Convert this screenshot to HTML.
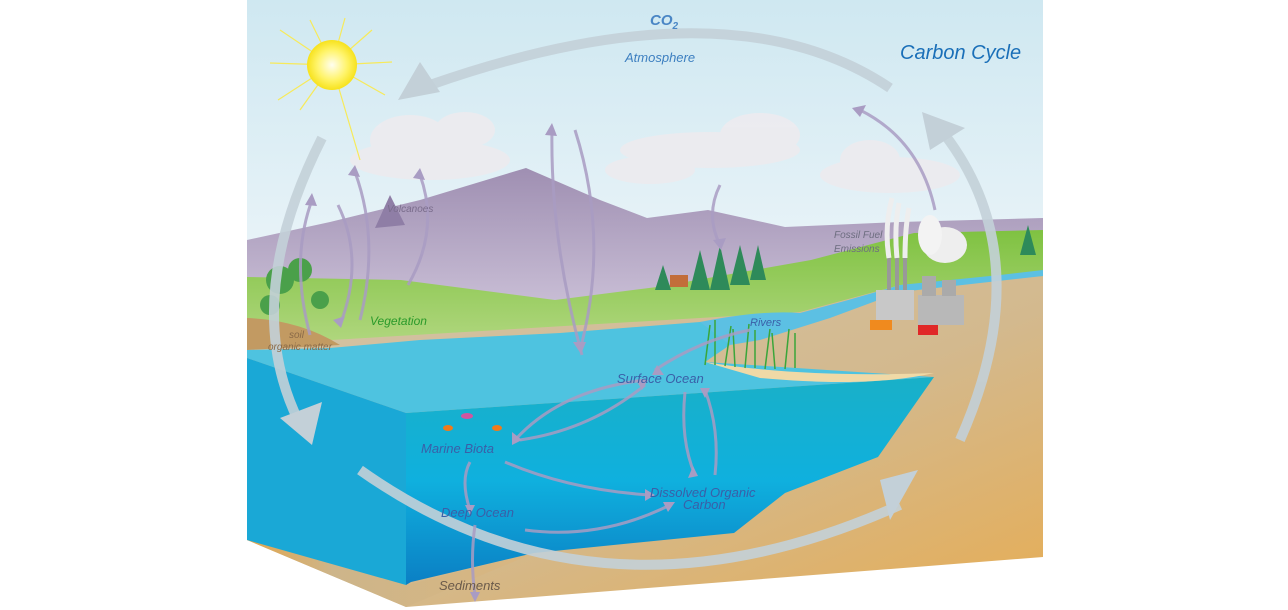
<!DOCTYPE html>
<html><head><meta charset="utf-8"><style>
html,body{margin:0;padding:0;background:#fff;width:1288px;height:610px;overflow:hidden}
svg{display:block}
text{font-family:"Liberation Sans",sans-serif;font-style:italic}
</style></head><body>
<svg width="1288" height="610" viewBox="0 0 1288 610" xmlns="http://www.w3.org/2000/svg">
<defs>
<linearGradient id="sky" x1="0" y1="0" x2="0" y2="1"><stop offset="0" stop-color="#cfe8f1"/><stop offset="1" stop-color="#edf5f9"/></linearGradient>
<linearGradient id="mtn" x1="0" y1="0" x2="0" y2="1"><stop offset="0" stop-color="#9f8fb2"/><stop offset="1" stop-color="#c7bcd4"/></linearGradient>
<linearGradient id="grass" x1="0" y1="0" x2="0" y2="1"><stop offset="0" stop-color="#7fc241"/><stop offset="1" stop-color="#b4d883"/></linearGradient>
<linearGradient id="front" x1="0" y1="0" x2="0" y2="1"><stop offset="0" stop-color="#19b0c8"/><stop offset="0.5" stop-color="#0fb0de"/><stop offset="1" stop-color="#0b7fc4"/></linearGradient>
<linearGradient id="tan" x1="0" y1="0" x2="1" y2="1"><stop offset="0" stop-color="#d2c4a8"/><stop offset="0.55" stop-color="#d3b98e"/><stop offset="1" stop-color="#e6ad55"/></linearGradient>
<linearGradient id="sandL" x1="0" y1="0" x2="1" y2="0"><stop offset="0" stop-color="#e2a64c"/><stop offset="0.3" stop-color="#cdb58a"/><stop offset="1" stop-color="#d9b680"/></linearGradient>
<radialGradient id="sun"><stop offset="0" stop-color="#fffef0"/><stop offset="0.6" stop-color="#fff46a"/><stop offset="1" stop-color="#f7e21c"/></radialGradient>
</defs>
<rect x="247" y="0" width="796" height="300" fill="url(#sky)"/>
<path d="M247,240 L330,222 L420,200 L526,168 L600,200 L647,218 L708,210 L785,227 L900,222 L1043,218 L1043,300 L247,300Z" fill="url(#mtn)"/>
<path d="M375,228 L390,195 L405,225Z" fill="#8f7ea6"/>
<!-- green land -->
<path d="M247,277 L401,280 L555,300 L657,287 L811,260 L914,233 L1043,230 L1043,290 L900,295 L800,318 L700,325 L560,335 L400,350 L300,352 L247,352Z" fill="url(#grass)"/>
<!-- tan base -->
<path d="M247,345 L800,312 L900,285 L1043,276 L1043,557 L406,607 L247,540Z" fill="url(#tan)"/>
<path d="M247,520 L406,585 L534,553 L406,607 L247,540Z" fill="url(#sandL)"/>
<path d="M247,318 Q300,320 340,345 L247,350Z" fill="#c29a62"/>
<!-- ocean top surface -->
<path d="M247,350 L330,348 L420,340 L560,333 L700,322 L760,318 L730,345 L705,362 L934,377 L406,413 L247,358Z" fill="#4ec3e0"/>
<path d="M247,358 L406,413 L406,585 L247,540Z" fill="#1aa8d6"/>
<path d="M406,413 L934,377 L878,457 L785,493 L734,533 L534,553 L411,582 L406,585Z" fill="url(#front)"/>
<path d="M705,362 Q800,378 934,373 Q870,388 760,378Z" fill="#f0d9a6"/>
<path d="M700,322 Q760,310 800,313 Q850,300 900,285 L1000,275 L1043,270 L1043,276 L900,292 L830,318 L760,340 L730,345Z" fill="#5cc0e3"/>
<g stroke="#3aa63a" stroke-width="1.5">
<path d="M705,365 l5,-40 M715,365 l0,-45 M725,366 l6,-40 M735,367 l-2,-38 M745,368 l4,-44 M755,368 l0,-38 M765,369 l5,-40 M775,369 l-3,-36 M785,369 l4,-40 M795,368 l0,-35"/>
</g>
<g fill="#ecebef" opacity="0.95">
<ellipse cx="430" cy="160" rx="80" ry="20"/><ellipse cx="410" cy="140" rx="40" ry="25"/><ellipse cx="465" cy="130" rx="30" ry="18"/>
<ellipse cx="710" cy="150" rx="90" ry="18"/><ellipse cx="760" cy="135" rx="40" ry="22"/><ellipse cx="650" cy="170" rx="45" ry="14"/>
<ellipse cx="890" cy="175" rx="70" ry="18"/><ellipse cx="870" cy="160" rx="30" ry="20"/>
</g>
<g fill="#2e8a5a">
<path d="M655,290 l8,-25 l8,25Z M690,290 l10,-40 l10,40Z M710,290 l10,-45 l10,45Z M730,285 l10,-40 l10,40Z M750,280 l8,-35 l8,35Z M1020,255 l8,-30 l8,30Z"/>
</g>
<g fill="#4aa04a"><circle cx="280" cy="280" r="14"/><circle cx="300" cy="270" r="12"/><circle cx="270" cy="305" r="10"/><circle cx="320" cy="300" r="9"/></g>
<rect x="670" y="275" width="18" height="12" fill="#c26d3a"/>
<g>
<rect x="876" y="290" width="38" height="30" fill="#c8c8c8"/><rect x="918" y="295" width="46" height="30" fill="#b8b8b8"/>
<rect x="887" y="258" width="4" height="32" fill="#999"/><rect x="895" y="258" width="4" height="32" fill="#999"/><rect x="903" y="258" width="4" height="32" fill="#999"/>
<rect x="922" y="276" width="14" height="20" fill="#aaa"/><rect x="942" y="280" width="14" height="16" fill="#aaa"/>
<path d="M889,258 q-5,-30 3,-60 M897,258 q-3,-30 2,-55 M905,258 q0,-30 4,-50" stroke="#eee" stroke-width="5" fill="none"/>
<ellipse cx="945" cy="245" rx="22" ry="18" fill="#eee"/><ellipse cx="930" cy="235" rx="12" ry="20" fill="#f3f3f3"/>
<rect x="870" y="320" width="22" height="10" fill="#f08a1e"/><rect x="918" y="325" width="20" height="10" fill="#e02828"/>
</g>
<g stroke="#f7ea5a" stroke-width="1.2">
<path d="M332,65 L270,63 M332,65 L280,30 M332,65 L310,20 M332,65 L345,18 M332,65 L372,30 M332,65 L392,62 M332,65 L385,95 M332,65 L360,160 M332,65 L300,110 M332,65 L278,100"/>
</g>
<circle cx="332" cy="65" r="25" fill="url(#sun)"/>
<g fill="none" stroke="#c3d0d8" stroke-width="10" opacity="0.9">
<path d="M890,88 Q730,-20 430,85"/>
<path d="M322,138 Q240,300 298,420"/>
<path d="M360,470 Q600,640 900,505"/>
<path d="M960,440 Q1040,260 945,135"/>
</g>
<g fill="#c3d0d8">
<path d="M398,100 L420,62 L440,92Z"/>
<path d="M280,418 L312,445 L322,402Z"/>
<path d="M890,520 L918,470 L880,480Z"/>
<path d="M922,112 L965,128 L930,150Z"/>
</g>
<g fill="none" stroke="#a99cc3" stroke-width="3" opacity="0.85">
<path d="M310,335 Q290,260 312,200"/>
<path d="M338,205 Q365,260 340,325"/>
<path d="M360,320 Q380,240 355,172"/>
<path d="M408,285 Q440,230 420,175"/>
<path d="M582,355 Q550,240 552,128"/>
<path d="M575,130 Q610,240 580,350"/>
<path d="M720,185 Q705,215 720,245"/>
<path d="M935,210 Q920,140 860,110"/>
<path d="M750,330 Q700,340 655,370"/>
<path d="M645,380 Q560,390 515,440"/>
<path d="M520,440 Q590,430 645,385"/>
<path d="M685,392 Q680,440 695,475"/>
<path d="M715,475 Q720,430 705,390"/>
<path d="M505,462 Q570,490 650,495"/>
<path d="M470,462 Q460,480 470,510"/>
<path d="M525,530 Q600,540 670,505"/>
<path d="M475,525 Q470,560 475,595"/>
</g>
<g fill="#a99cc3">
<path d="M305,205 l7,-12 l5,13Z"/><path d="M333,320 l8,8 l4,-12Z"/><path d="M348,175 l7,-10 l5,12Z"/>
<path d="M413,178 l7,-10 l5,12Z"/><path d="M545,135 l7,-12 l5,13Z"/><path d="M573,342 l8,12 l5,-12Z"/>
<path d="M713,240 l8,10 l5,-12Z"/><path d="M852,108 l14,-3 l-6,12Z"/><path d="M652,375 l12,0 l-7,-10Z"/>
<path d="M512,445 l0,-13 l10,8Z"/><path d="M648,380 l-12,0 l6,10Z"/><path d="M688,478 l10,-2 l-5,-10Z"/>
<path d="M700,388 l10,0 l-5,10Z"/><path d="M655,495 l-10,-6 l0,12Z"/><path d="M465,505 l10,0 l-5,10Z"/>
<path d="M675,502 l-12,0 l5,10Z"/><path d="M470,592 l10,0 l-5,10Z"/>
</g>
<ellipse cx="448" cy="428" rx="5" ry="3" fill="#f07a1a"/><ellipse cx="497" cy="428" rx="5" ry="3" fill="#f07a1a"/><ellipse cx="467" cy="416" rx="6" ry="3" fill="#d055a0"/>
<text x="650" y="25" font-size="15" fill="#4a86c5" font-style="normal" font-weight="bold">CO<tspan font-size="10" dy="4">2</tspan></text>
<text x="625" y="62" font-size="13" fill="#3d7fc0">Atmosphere</text>
<text x="900" y="59" font-size="20" fill="#1a6fb8">Carbon Cycle</text>
<text x="387" y="212" font-size="10" fill="#7a6d8c">Volcanoes</text>
<text x="834" y="238" font-size="10" fill="#6e6e80">Fossil Fuel</text>
<text x="834" y="252" font-size="10" fill="#6e6e80">Emissions</text>
<text x="370" y="325" font-size="12" fill="#2a9a2a">Vegetation</text>
<text x="289" y="338" font-size="10" fill="#8a6a48">soil</text>
<text x="268" y="350" font-size="10" fill="#8a6a48">organic matter</text>
<text x="750" y="326" font-size="11" fill="#3a5fa8">Rivers</text>
<text x="617" y="383" font-size="13" fill="#3a5fa8">Surface Ocean</text>
<text x="421" y="453" font-size="13" fill="#3a5fa8">Marine Biota</text>
<text x="650" y="497" font-size="13" fill="#3a5fa8">Dissolved Organic</text>
<text x="683" y="509" font-size="13" fill="#3a5fa8">Carbon</text>
<text x="441" y="517" font-size="13" fill="#3a5fa8">Deep Ocean</text>
<text x="439" y="590" font-size="13" fill="#6a5a4a">Sediments</text>
</svg>
</body></html>
